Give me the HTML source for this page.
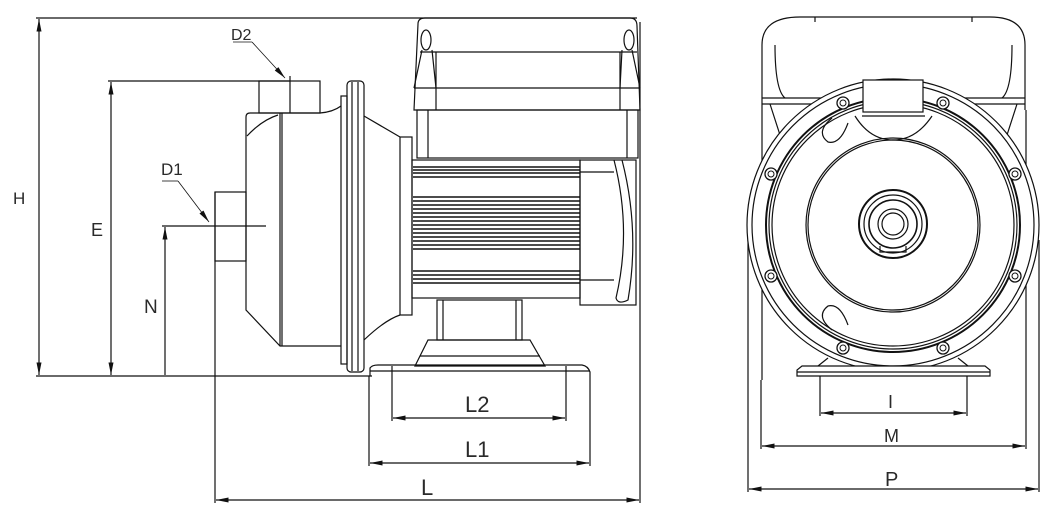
<!DOCTYPE html>
<html><head><meta charset="utf-8"><style>
html,body{margin:0;padding:0;background:#fff;}
svg{display:block;}
text{font-family:"Liberation Sans",sans-serif;fill:#2a2a2a;}
</style></head><body>
<svg width="1058" height="505" viewBox="0 0 1058 505" xmlns="http://www.w3.org/2000/svg">
<defs>
<marker id="a" viewBox="0 0 10 4" refX="10" refY="2" markerWidth="16" markerHeight="5" orient="auto-start-reverse" markerUnits="userSpaceOnUse"><path d="M0,0 L10,2 L0,4 Z" fill="#111"/></marker>
</defs>
<g stroke="#111" stroke-width="1.2" fill="none">
<line x1="36" y1="18" x2="637" y2="18"/>
<line x1="36" y1="376" x2="372" y2="376"/>
<line x1="108" y1="81" x2="290" y2="81"/>
<line x1="162" y1="226" x2="266" y2="226"/>
<line x1="215" y1="192" x2="215" y2="503"/>
<line x1="640" y1="22" x2="640" y2="503"/>
<line x1="39" y1="19" x2="39" y2="375" marker-start="url(#a)" marker-end="url(#a)"/>
<line x1="111" y1="82" x2="111" y2="375" marker-start="url(#a)" marker-end="url(#a)"/>
<line x1="165" y1="227" x2="165" y2="375" marker-start="url(#a)"/>
<line x1="216" y1="500" x2="639" y2="500" marker-start="url(#a)" marker-end="url(#a)"/>
<line x1="369" y1="376" x2="369" y2="466"/><line x1="590" y1="376" x2="590" y2="466"/>
<line x1="370" y1="463" x2="589" y2="463" marker-start="url(#a)" marker-end="url(#a)"/>
<line x1="392" y1="366" x2="392" y2="421"/><line x1="566" y1="366" x2="566" y2="421"/>
<line x1="393" y1="418" x2="565" y2="418" marker-start="url(#a)" marker-end="url(#a)"/>
<line x1="233" y1="42" x2="252" y2="42" stroke-width="0.8"/>
<line x1="252" y1="42" x2="285" y2="78" stroke-width="0.8" marker-end="url(#a)"/>
<line x1="162" y1="181" x2="178" y2="181" stroke-width="0.8"/>
<line x1="178" y1="181" x2="209" y2="222" stroke-width="0.8" marker-end="url(#a)"/>
<!-- pump casing -->
<rect x="259" y="81" width="61" height="32"/>
<line x1="290" y1="76" x2="290" y2="113"/>
<rect x="215" y="192" width="31" height="69"/>
<path d="M250,113 L320,113 Q333,112 341,106"/>
<path d="M250,113 Q246,113 246,117 L246,310 L280,346 L341,346"/>
<line x1="280" y1="113" x2="280" y2="346"/>
<line x1="282" y1="113" x2="282" y2="346"/>
<path d="M247,136 Q262,120 278,115"/>
<!-- flange -->
<rect x="341" y="96" width="6" height="268"/>
<rect x="347" y="81" width="17" height="291" rx="4"/>
<line x1="352" y1="82" x2="352" y2="371"/><line x1="358" y1="82" x2="358" y2="371"/>
<path d="M364,116 L400,137 M364,340 Q385,320 400,315"/>
<rect x="400" y="137" width="12" height="178"/>
<!-- motor top box -->
<path d="M418,24 Q418,18 425,18 L630,18 Q637,18 637,26 L640,110 L414,110 Z"/>
<line x1="420" y1="52" x2="637" y2="52"/>
<line x1="414" y1="88" x2="640" y2="88"/>
<line x1="436" y1="52" x2="436" y2="110"/><line x1="620" y1="52" x2="620" y2="110"/>
<ellipse cx="426" cy="40" rx="5" ry="10"/><ellipse cx="629" cy="40" rx="5" ry="10"/>
<path d="M422,50 L414,88 M432,50 L436,88 M622,50 L620,88 M632,50 L640,88"/>
<rect x="417" y="110" width="221" height="48"/>
<line x1="428" y1="110" x2="428" y2="158"/><line x1="627" y1="110" x2="627" y2="158"/>
<rect x="412" y="160" width="168" height="138"/>
<rect x="580" y="160" width="56" height="145"/>
<path d="M614,160 Q632,230 616,298 Q618,305 628,300 Q640,230 622,160"/>
<line x1="580" y1="172" x2="614" y2="172"/>
<line x1="580" y1="280" x2="614" y2="280"/>
</g>
<g stroke="#111" stroke-width="1.4">
<line x1="413" y1="167" x2="580" y2="167"/><line x1="413" y1="170" x2="580" y2="170"/>
<line x1="413" y1="173" x2="580" y2="173"/><line x1="413" y1="177" x2="580" y2="177"/>
<line x1="413" y1="197" x2="580" y2="197"/><line x1="413" y1="201" x2="580" y2="201"/>
<line x1="413" y1="205" x2="580" y2="205"/><line x1="413" y1="209" x2="580" y2="209"/>
<line x1="413" y1="213" x2="580" y2="213"/><line x1="413" y1="217" x2="580" y2="217"/>
<line x1="413" y1="221" x2="580" y2="221"/><line x1="413" y1="225" x2="580" y2="225"/>
<line x1="413" y1="229" x2="580" y2="229"/><line x1="413" y1="233" x2="580" y2="233"/>
<line x1="413" y1="237" x2="580" y2="237"/><line x1="413" y1="241" x2="580" y2="241"/>
<line x1="413" y1="245" x2="580" y2="245"/><line x1="413" y1="249" x2="580" y2="249"/>
<line x1="413" y1="271" x2="580" y2="271"/><line x1="413" y1="275" x2="580" y2="275"/>
<line x1="413" y1="279" x2="580" y2="279"/><line x1="413" y1="283" x2="580" y2="283"/>
</g>
<g stroke="#111" stroke-width="1.2" fill="none">
<rect x="437" y="300" width="85" height="40"/>
<line x1="443" y1="300" x2="443" y2="340"/><line x1="516" y1="300" x2="516" y2="340"/>
<path d="M415,366 L428,340 L530,340 L545,366 Z"/>
<line x1="420" y1="356" x2="540" y2="356"/>
<path d="M370,376 L370,368 Q372,365 378,365 L582,365 Q588,366 590,372 L590,376"/>
<line x1="370" y1="371" x2="590" y2="371"/>
<!-- right view -->
<path d="M762,110 L762,45 Q762,17 800,17 L990,17 Q1025,17 1025,45 L1025,110"/>
<line x1="815" y1="17" x2="815" y2="22"/><line x1="972" y1="17" x2="972" y2="22"/>
<path d="M775,45 Q775,90 785,98 M1012,45 Q1012,90 1002,98"/>
<line x1="762" y1="98" x2="1025" y2="98"/>
<line x1="762" y1="104" x2="1025" y2="104"/>
<path d="M770,104 L780,135 M1017,104 L1007,135"/>
<line x1="762" y1="110" x2="762" y2="380"/><line x1="1026" y1="110" x2="1026" y2="380"/>
<line x1="748" y1="240" x2="748" y2="492"/><line x1="1039" y1="240" x2="1039" y2="492"/>
<line x1="761" y1="380" x2="761" y2="449"/><line x1="1026" y1="380" x2="1026" y2="449"/>
<line x1="820" y1="366" x2="820" y2="416"/><line x1="967" y1="366" x2="967" y2="416"/>
<circle cx="893" cy="225" r="146" fill="#fff"/>
<circle cx="893" cy="225" r="141"/>
<circle cx="893" cy="225" r="127" stroke-width="2"/>
<circle cx="893" cy="225" r="124"/>
<circle cx="893" cy="225" r="121"/>
<circle cx="893" cy="225" r="87"/>
<circle cx="893" cy="225" r="85"/>
<circle cx="893" cy="224" r="34" stroke-width="2"/>
<circle cx="893" cy="224" r="29"/>
<circle cx="893" cy="224" r="24" stroke-width="1.6"/>
<circle cx="893" cy="224" r="15"/>
<circle cx="893" cy="224" r="11"/>
<path d="M880,246 L880,252 L906,252 L906,246"/>
<rect x="863" y="80" width="60" height="32" fill="#fff"/>
<path d="M855,116 Q870,140 893,140 Q916,140 932,116"/>
<line x1="862" y1="116" x2="925" y2="116"/>
<path d="M832,118 Q815,132 828,142 Q840,145 848,123"/>
<path d="M832,330 Q815,316 828,306 Q840,303 848,325"/>
<path d="M797,376 L797,370 L802,366 L985,366 L990,370 L990,376 Z" fill="#fff"/>
<line x1="797" y1="372" x2="990" y2="372"/>
<line x1="818" y1="366" x2="828" y2="358"/><line x1="968" y1="366" x2="958" y2="358"/>
<line x1="821" y1="413" x2="966" y2="413" marker-start="url(#a)" marker-end="url(#a)"/>
<line x1="762" y1="446" x2="1025" y2="446" marker-start="url(#a)" marker-end="url(#a)"/>
<line x1="749" y1="489" x2="1038" y2="489" marker-start="url(#a)" marker-end="url(#a)"/>
</g>
<g stroke="#111" stroke-width="1.3" fill="#fff">
<circle cx="843" cy="103" r="6"/><circle cx="943" cy="103" r="6"/>
<circle cx="771" cy="174" r="6"/><circle cx="1015" cy="174" r="6"/>
<circle cx="771" cy="276" r="6"/><circle cx="1015" cy="276" r="6"/>
<circle cx="843" cy="348" r="6"/><circle cx="943" cy="348" r="6"/>
</g>
<g stroke="#111" stroke-width="1" fill="none">
<circle cx="843" cy="103" r="3"/><circle cx="943" cy="103" r="3"/>
<circle cx="771" cy="174" r="3"/><circle cx="1015" cy="174" r="3"/>
<circle cx="771" cy="276" r="3"/><circle cx="1015" cy="276" r="3"/>
<circle cx="843" cy="348" r="3"/><circle cx="943" cy="348" r="3"/>
</g>
<g>
<text x="13" y="204" font-size="17">H</text>
<text x="91" y="236" font-size="18">E</text>
<text x="144" y="313" font-size="19">N</text>
<text x="231" y="40" font-size="16">D2</text>
<text x="161" y="175" font-size="17">D1</text>
<text x="421" y="495" font-size="22">L</text>
<text x="465" y="457" font-size="22">L1</text>
<text x="465" y="412" font-size="22">L2</text>
<text x="888" y="408" font-size="18">I</text>
<text x="884" y="442" font-size="18">M</text>
<text x="885" y="486" font-size="20">P</text>
</g>
</svg>
</body></html>
